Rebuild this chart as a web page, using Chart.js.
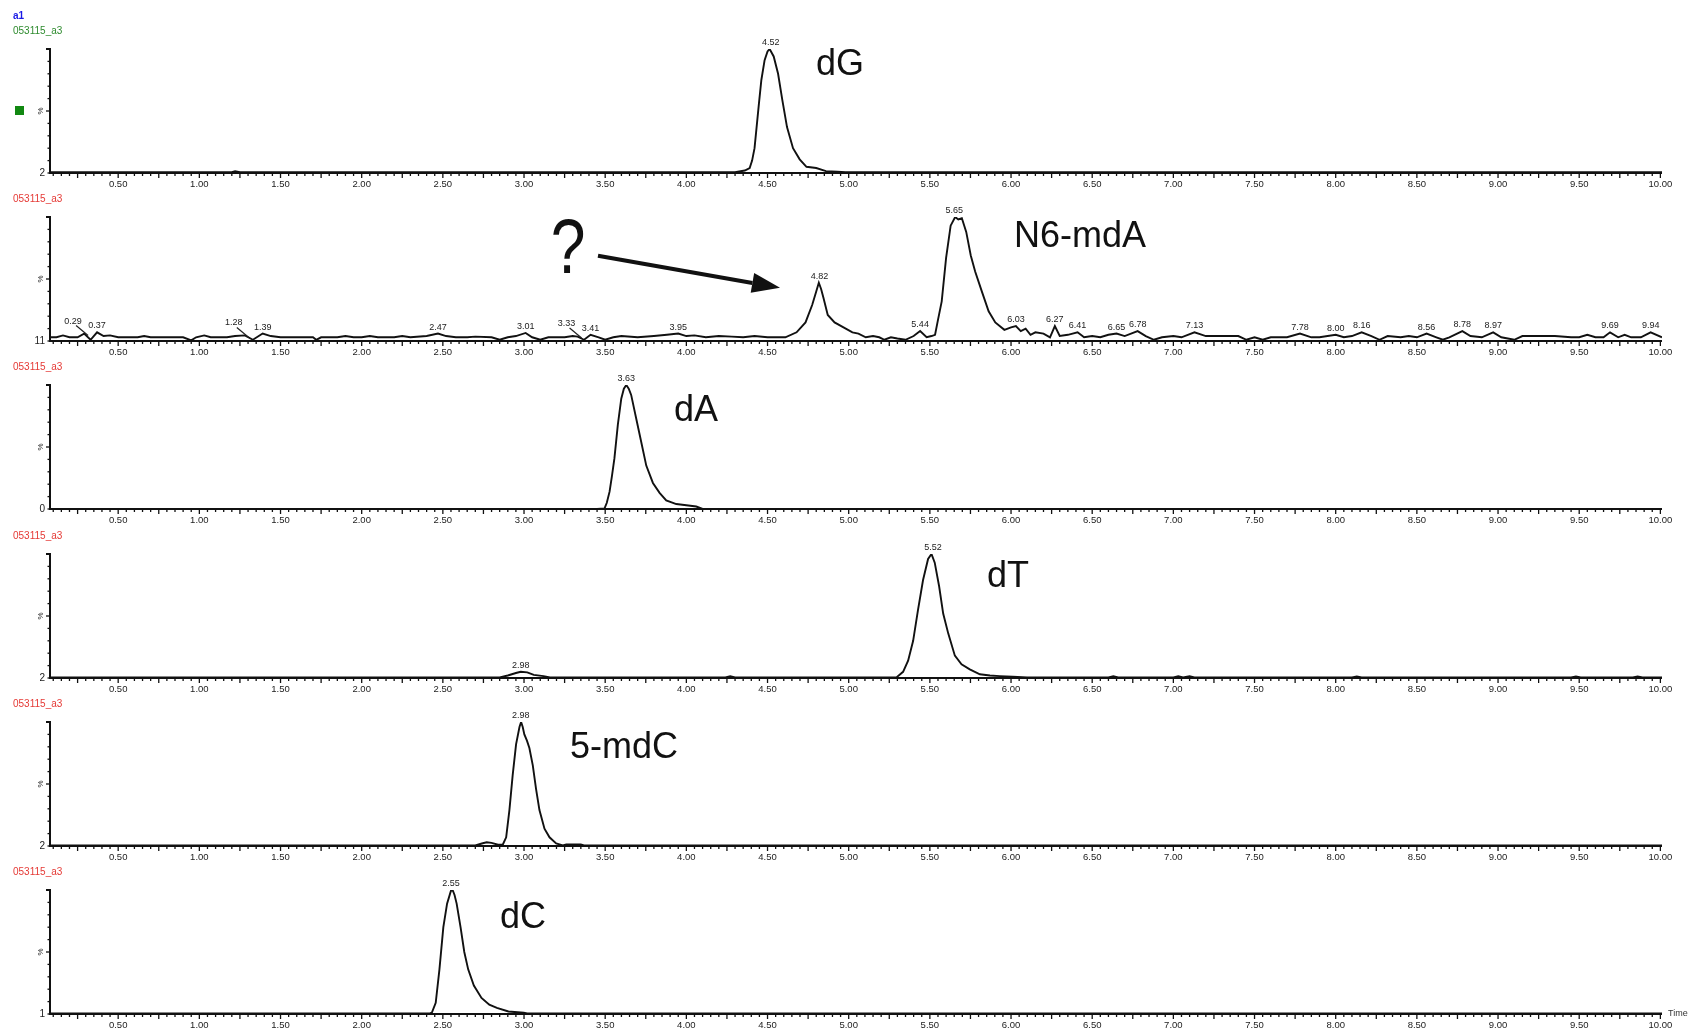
<!DOCTYPE html>
<html>
<head>
<meta charset="utf-8">
<script src="https://cdn.jsdelivr.net/npm/chart.js@4.4.1/dist/chart.umd.min.js"></script>
<style>
  html, body { margin: 0; padding: 0; background: #fff; }
  #wrap { position: relative; width: 1695px; height: 1033px; overflow: hidden; }
  .panel { position: absolute; left: 0; width: 1695px; height: 185px; }
</style>
</head>
<body>
<div id="wrap"></div>
<script>
// ---------- Data (time in min, intensity in %) ----------
const xMin = 0.08, xMax = 10.01;
const xTickLabels = ["0.50", "1.00", "1.50", "2.00", "2.50", "3.00", "3.50", "4.00", "4.50", "5.00",
  "5.50", "6.00", "6.50", "7.00", "7.50", "8.00", "8.50", "9.00", "9.50", "10.00"];

const compoundNames = ["dG", "N6-mdA", "dA", "dT", "5-mdC", "dC"];
const baseLabels = ["2", "11", "0", "2", "2", "1"];
const fileNames = ["053115_a3", "053115_a3", "053115_a3", "053115_a3", "053115_a3", "053115_a3"];

const dGTrace = [[0.08,0.6],[1.2,0.6],[1.22,1.5],[1.25,0.6],[2.5,0.6],[3.8,0.6],[4.3,0.6],[4.36,2],
  [4.39,4],[4.405,10],[4.42,20],[4.447,56],[4.462,75],[4.482,91],[4.5,98],[4.513,100],[4.538,94],
  [4.565,80],[4.591,59],[4.62,37],[4.657,20],[4.698,11],[4.74,5],[4.8,4],[4.86,1.5],[4.93,1],
  [4.98,0.6],[7.5,0.6],[10.01,0.6]];

const n6Trace = [[0.08,3],[0.12,3],[0.16,4.5],[0.2,3],[0.25,3],[0.29,6],[0.33,1],[0.37,7],[0.41,4],
  [0.45,4.5],[0.5,3],[0.56,3],[0.62,3],[0.66,4],[0.7,3],[0.78,3],[0.84,3],[0.9,3],[0.95,0.5],[0.98,3],
  [1.03,4.5],[1.07,3],[1.12,3],[1.17,3],[1.22,4],[1.28,4.5],[1.33,1],[1.39,6],[1.44,4],[1.5,3],[1.6,3],
  [1.7,3],[1.72,1],[1.75,3],[1.85,3],[1.9,4],[1.95,3],[2.0,3],[2.05,4],[2.1,3],[2.2,3],[2.25,4],[2.3,3],
  [2.4,4],[2.47,6],[2.52,4],[2.58,3],[2.65,3],[2.7,3.5],[2.8,3],[2.85,1],[2.9,3],[2.95,4],[3.01,6.5],
  [3.05,3],[3.1,1],[3.15,3],[3.25,3],[3.3,4],[3.33,3.5],[3.37,1],[3.41,5],[3.46,3],[3.5,1],[3.55,3],
  [3.6,4],[3.7,3],[3.8,4],[3.88,5],[3.95,6],[4.0,4],[4.05,4.5],[4.12,3],[4.2,4],[4.28,3.5],[4.35,3],
  [4.42,4],[4.5,3],[4.55,3],[4.61,3],[4.679,7],[4.734,15],[4.775,29],[4.8,40],[4.816,47],[4.83,42],
  [4.844,35],[4.871,21],[4.913,15],[4.968,11],[5.023,7],[5.06,6],[5.105,3],[5.15,4],[5.188,3],[5.22,1],
  [5.26,3],[5.3,2],[5.35,1],[5.4,4],[5.44,8],[5.48,3],[5.51,4],[5.532,5],[5.55,17],[5.573,32],[5.6,67],
  [5.628,93],[5.656,100],[5.675,98],[5.697,99],[5.724,88],[5.752,69],[5.779,56],[5.82,40],[5.862,24],
  [5.903,15],[5.959,9],[6.0,11],[6.03,12],[6.06,8],[6.09,10],[6.12,5],[6.15,7],[6.2,6],[6.24,3],[6.27,12],
  [6.3,4],[6.35,5],[6.41,7],[6.45,3],[6.5,4],[6.55,3],[6.6,5],[6.65,6],[6.7,4],[6.78,8],[6.83,4],[6.88,1],
  [6.93,3],[7.0,4],[7.05,3],[7.13,7],[7.2,4],[7.3,4],[7.4,4],[7.45,1],[7.5,3],[7.55,1],[7.6,3],[7.7,3],
  [7.78,6],[7.85,3],[7.9,3],[8.0,5],[8.05,3],[8.1,4],[8.16,7],[8.22,4],[8.27,1],[8.32,4],[8.4,3],[8.45,4],
  [8.5,3],[8.56,6],[8.62,3],[8.66,1],[8.7,3],[8.78,8],[8.83,4],[8.9,3],[8.97,7],[9.02,3],[9.1,1],[9.15,4],
  [9.25,4],[9.35,4],[9.45,3],[9.5,3],[9.55,5],[9.6,3],[9.65,3],[9.69,7],[9.74,3],[9.78,5],[9.82,3],
  [9.88,3],[9.94,7],[10.01,3]];

const dATrace = [[0.08,0],[3.45,0],[3.496,0.5],[3.51,5],[3.527,14],[3.542,27],[3.557,41],[3.578,68],
  [3.599,89],[3.615,97],[3.63,100],[3.645,97],[3.66,92],[3.691,73],[3.722,54],[3.753,35],[3.794,21],
  [3.835,13],[3.876,7],[3.938,4],[4.0,3],[4.061,2],[4.1,0],[10.01,0]];

const dTTrace = [[0.08,0.5],[2.85,0.5],[2.9,2],[2.95,4],[2.98,5],[3.02,4.5],[3.06,2.5],[3.12,1.5],
  [3.16,0.5],[4.24,0.5],[4.27,1.5],[4.3,0.5],[5.294,0.5],[5.335,5],[5.366,14],[5.397,30],[5.427,55],
  [5.458,79],[5.489,96],[5.51,100],[5.53,93],[5.557,74],[5.582,52],[5.613,36],[5.654,18],[5.695,11],
  [5.746,7],[5.808,3],[5.87,2],[5.93,1.5],[6.01,1],[6.1,0.5],[6.6,0.5],[6.63,1.5],[6.66,0.5],[7.0,0.5],
  [7.03,1.5],[7.06,0.5],[7.1,1.5],[7.13,0.5],[8.1,0.5],[8.13,1.2],[8.16,0.5],[9.45,0.5],[9.48,1.2],
  [9.51,0.5],[9.83,0.5],[9.86,1.2],[9.89,0.5],[10.01,0.5]];

const mdCTrace = [[0.08,0.5],[2.7,0.5],[2.74,2],[2.77,3],[2.8,2.5],[2.84,1],[2.869,1],[2.89,7],[2.91,29],
  [2.93,57],[2.951,82],[2.972,96],[2.982,100],[2.992,96],[3.002,90],[3.018,85],[3.033,79],[3.054,65],
  [3.074,46],[3.095,29],[3.126,14],[3.157,7],[3.198,2],[3.239,0.5],[3.26,1.2],[3.35,1.2],[3.37,0.5],
  [10.01,0.5]];

const dCTrace = [[0.08,0.5],[2.42,0.5],[2.432,1],[2.456,9],[2.479,36],[2.503,70],[2.526,89],[2.55,99.5],
  [2.56,100],[2.572,96],[2.585,89],[2.609,70],[2.632,50],[2.656,36],[2.691,23],[2.738,13],[2.786,7.5],
  [2.833,5],[2.904,2],[2.998,1],[3.02,0.5],[10.01,0.5]];

const dGPeaks = ["4.52"];
const n6Peaks = ["0.29", "0.37", "1.28", "1.39", "2.47", "3.01", "3.33", "3.41", "3.95", "4.82", "5.44",
  "5.65", "6.03", "6.27", "6.41", "6.65", "6.78", "7.13", "7.78", "8.00", "8.16", "8.56", "8.78", "8.97",
  "9.69", "9.94"];
const n6LeaderPeaks = ["0.29", "1.28", "3.33"];
const dAPeaks = ["3.63"];
const dTPeaks = ["2.98", "5.52"];
const mdCPeaks = ["2.98"];
const dCPeaks = ["2.55"];

// ---------- Layout ----------
const FONT = '"Liberation Sans", Arial, Helvetica, sans-serif';
const firstBase = 173, baseStep = 168.2, plotH = 124, padTop = 41, canvasH = 185;
const compoundPos = [[840, 65], [1080, 237], [696, 411], [1008, 577], [624, 748], [523, 918]];

const panels = [
  { trace: dGTrace, peaks: dGPeaks, color: "#2e8b2e" },
  { trace: n6Trace, peaks: n6Peaks, color: "#e53935" },
  { trace: dATrace, peaks: dAPeaks, color: "#e53935" },
  { trace: dTTrace, peaks: dTPeaks, color: "#e53935" },
  { trace: mdCTrace, peaks: mdCPeaks, color: "#e53935" },
  { trace: dCTrace, peaks: dCPeaks, color: "#e53935" }
];

function peakTop(trace, t) {
  let best = 0;
  trace.forEach(([tt, v]) => { if (Math.abs(tt - t) <= 0.035 && v > best) best = v; });
  return best;
}

function makePanelPlugin(p, i) {
  return {
    id: "msPanel" + i,
    afterDraw(chart) {
      const { ctx, chartArea: a, scales: { x, y } } = chart;
      const top = p.base - padTop - plotH;
      ctx.save();

      // axes
      ctx.strokeStyle = "#111";
      ctx.lineWidth = 2;
      ctx.beginPath();
      ctx.moveTo(a.left - 4, a.top);
      ctx.lineTo(a.left, a.top);
      ctx.lineTo(a.left, a.bottom);
      ctx.lineTo(a.right, a.bottom);
      ctx.stroke();

      ctx.lineWidth = 1.3;
      for (let v = 0; v <= 100; v += 10) {
        const py = y.getPixelForValue(v);
        ctx.beginPath();
        ctx.moveTo(a.left - (v === 50 ? 4 : 2.5), py);
        ctx.lineTo(a.left, py);
        ctx.stroke();
      }
      for (let k = 1; k * 0.05 <= xMax + 1e-9; k++) {
        const t = k * 0.05;
        if (t < xMin) continue;
        const px = x.getPixelForValue(t);
        ctx.beginPath();
        ctx.moveTo(px, a.bottom);
        ctx.lineTo(px, a.bottom + (k % 5 === 0 ? 5 : 3));
        ctx.stroke();
      }

      // tick labels
      ctx.fillStyle = "#222";
      ctx.font = "9.5px " + FONT;
      ctx.textAlign = "center";
      ctx.textBaseline = "middle";
      xTickLabels.forEach(s => ctx.fillText(s, x.getPixelForValue(parseFloat(s)), a.bottom + 11));

      ctx.font = "10px " + FONT;
      ctx.textAlign = "right";
      ctx.fillText(baseLabels[i], a.left - 5, a.bottom);

      ctx.save();
      ctx.translate(a.left - 9, (a.top + a.bottom) / 2);
      ctx.rotate(-Math.PI / 2);
      ctx.font = "8px " + FONT;
      ctx.textAlign = "center";
      ctx.fillText("%", 0, 0);
      ctx.restore();

      // file name
      ctx.textAlign = "left";
      ctx.font = "10px " + FONT;
      ctx.fillStyle = p.color;
      ctx.fillText(fileNames[i], 13, a.bottom - 142);

      if (i === 0) {
        ctx.fillStyle = "#1a1ae6";
        ctx.font = "bold 10px " + FONT;
        ctx.fillText("a1", 13, 16 - top);
        ctx.fillStyle = "#118811";
        ctx.fillRect(15, 106 - top, 9, 9);
      }
      if (i === panels.length - 1) {
        ctx.fillStyle = "#333";
        ctx.font = "9px " + FONT;
        ctx.fillText("Time", a.right + 6, a.bottom);
      }

      // peak labels
      ctx.fillStyle = "#222";
      ctx.strokeStyle = "#222";
      ctx.font = "9px " + FONT;
      ctx.textAlign = "center";
      ctx.textBaseline = "bottom";
      p.peaks.forEach(s => {
        const t = parseFloat(s);
        const px = x.getPixelForValue(t);
        const py = y.getPixelForValue(peakTop(p.trace, t));
        if (i === 1 && n6LeaderPeaks.includes(s)) {
          const lx = px - 11, ly = py - 8;
          ctx.fillText(s, lx, ly);
          ctx.lineWidth = 1.2;
          ctx.beginPath();
          ctx.moveTo(lx + 3, ly);
          ctx.lineTo(px + 4, py + 2);
          ctx.stroke();
        } else {
          ctx.fillText(s, px, py - 2);
        }
      });

      // compound name
      ctx.fillStyle = "#111";
      ctx.font = "36px " + FONT;
      ctx.textBaseline = "middle";
      ctx.fillText(compoundNames[i], compoundPos[i][0], compoundPos[i][1] - top);

      if (i === 1) {
        // question mark and arrow
        ctx.save();
        ctx.translate(568, 252 - top);
        ctx.scale(0.8, 1);
        ctx.font = "78px " + FONT;
        ctx.fillText("?", 0, 0);
        ctx.restore();

        const x0 = 598, y0 = 256 - top, x1 = 780, y1 = 288 - top;
        const ang = Math.atan2(y1 - y0, x1 - x0);
        const hl = 28, hw = 10;
        const bx = x1 - hl * Math.cos(ang), by = y1 - hl * Math.sin(ang);
        ctx.strokeStyle = "#111";
        ctx.lineWidth = 4;
        ctx.beginPath();
        ctx.moveTo(x0, y0);
        ctx.lineTo(bx, by);
        ctx.stroke();
        ctx.beginPath();
        ctx.moveTo(x1, y1);
        ctx.lineTo(bx + hw * Math.sin(ang), by - hw * Math.cos(ang));
        ctx.lineTo(bx - hw * Math.sin(ang), by + hw * Math.cos(ang));
        ctx.closePath();
        ctx.fill();
      }
      ctx.restore();
    }
  };
}

// ---------- Charts ----------
const wrap = document.getElementById("wrap");
panels.forEach((p, i) => {
  p.base = firstBase + i * baseStep;
  const div = document.createElement("div");
  div.className = "panel";
  div.style.top = (p.base - padTop - plotH) + "px";
  const canvas = document.createElement("canvas");
  div.appendChild(canvas);
  wrap.appendChild(div);

  new Chart(canvas, {
    type: "line",
    data: {
      datasets: [{
        data: p.trace.map(([t, v]) => ({ x: t, y: v })),
        borderColor: "#111",
        borderWidth: 1.9,
        pointRadius: 0,
        tension: 0,
        fill: false
      }]
    },
    options: {
      responsive: true,
      maintainAspectRatio: false,
      animation: false,
      events: [],
      layout: { padding: { left: 50, right: 33, top: padTop, bottom: canvasH - padTop - plotH } },
      scales: {
        x: { type: "linear", min: xMin, max: xMax, display: false },
        y: { min: 0, max: 100, display: false }
      },
      plugins: { legend: { display: false }, tooltip: { enabled: false } }
    },
    plugins: [makePanelPlugin(p, i)]
  });
});
</script>
</body>
</html>
